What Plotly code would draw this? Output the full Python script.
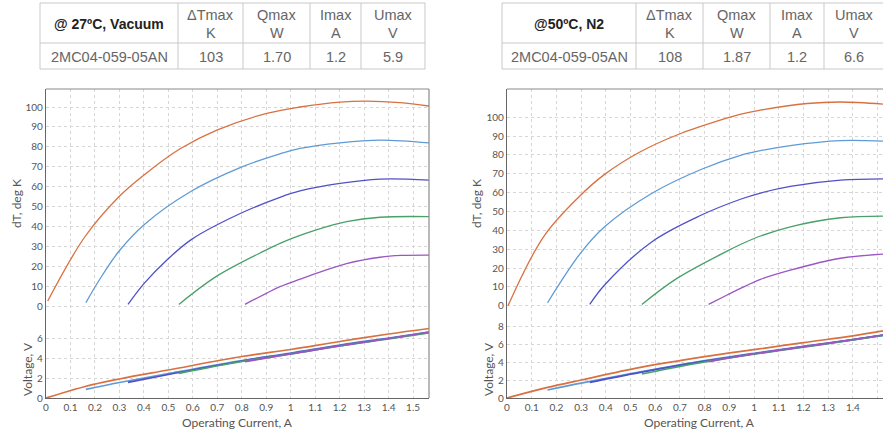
import plotly.graph_objects as go

W, H = 883, 431

# ---------------- data ----------------
series_names = ["Q=0", "Q=0.25", "Q=0.5", "Q=0.75", "Q=1"]
series_colors = ["#d9703f", "#5f9ad6", "#5050c8", "#48a06a", "#9b55c4"]

# Left panel (@27ºC, Vacuum): dT vs current
L_I = [
    [0.007, 0.159, 0.298, 0.402, 0.548, 0.698, 0.902, 1.038, 1.201, 1.311, 1.447, 1.565],
    [0.163, 0.221, 0.298, 0.402, 0.595, 0.796, 0.956, 1.038, 1.201, 1.365, 1.565],
    [0.335, 0.402, 0.493, 0.595, 0.796, 0.956, 1.038, 1.201, 1.365, 1.565],
    [0.543, 0.698, 0.902, 0.956, 1.038, 1.092, 1.228, 1.365, 1.565],
    [0.813, 0.902, 0.956, 1.038, 1.092, 1.228, 1.365, 1.450, 1.565],
]
L_dT = [
    [2.5, 34.8, 54.9, 66.0, 79.0, 88.4, 96.8, 100.0, 102.5, 103.0, 102.2, 100.5],
    [1.7, 13.7, 27.5, 41.0, 57.8, 69.7, 76.5, 79.2, 82.0, 83.4, 82.0],
    [0.8, 11.5, 23.0, 33.5, 46.6, 54.6, 57.8, 61.6, 63.8, 63.3],
    [0.8, 15.0, 28.3, 31.5, 35.5, 37.8, 42.4, 44.6, 44.9],
    [0.8, 6.5, 9.7, 13.5, 15.9, 21.3, 24.5, 25.4, 25.6],
]
# Left panel voltage vs current
L_VI = [
    [0.0, 0.16, 0.3, 0.5, 0.8, 1.0, 1.2, 1.4, 1.565],
    [0.163, 0.3, 0.5, 0.8, 1.0, 1.2, 1.4, 1.565],
    [0.335, 0.5, 0.8, 1.0, 1.2, 1.4, 1.565],
    [0.543, 0.8, 1.0, 1.2, 1.4, 1.565],
    [0.813, 1.0, 1.2, 1.4, 1.565],
]
L_V = [
    [0.0, 1.15, 1.9, 2.8, 4.15, 4.85, 5.65, 6.4, 6.95],
    [0.87, 1.55, 2.45, 3.75, 4.5, 5.3, 6.0, 6.6],
    [1.57, 2.35, 3.7, 4.45, 5.25, 5.95, 6.55],
    [2.47, 3.65, 4.4, 5.2, 5.9, 6.5],
    [3.63, 4.4, 5.2, 5.95, 6.6],
]

# Right panel (@50ºC, N2): dT vs current
R_I = [
    [0.004, 0.148, 0.293, 0.395, 0.540, 0.688, 0.889, 0.943, 1.026, 1.215, 1.350, 1.522],
    [0.164, 0.297, 0.395, 0.587, 0.785, 0.945, 1.026, 1.147, 1.350, 1.522],
    [0.335, 0.395, 0.587, 0.785, 0.945, 1.026, 1.147, 1.350, 1.522],
    [0.546, 0.688, 0.891, 0.945, 1.026, 1.147, 1.350, 1.522],
    [0.816, 0.891, 0.945, 1.026, 1.147, 1.350, 1.522],
]
R_dT = [
    [0.0, 36.6, 58.0, 69.7, 81.7, 90.6, 99.5, 101.5, 103.8, 107.3, 108.1, 107.0],
    [1.6, 27.8, 41.9, 59.7, 72.3, 79.8, 82.3, 85.0, 87.6, 87.3],
    [0.7, 11.0, 34.0, 48.0, 56.5, 59.8, 63.3, 66.6, 67.3],
    [0.7, 14.5, 29.0, 32.5, 37.0, 41.9, 46.7, 47.6],
    [0.7, 5.7, 9.2, 14.0, 18.9, 25.2, 27.4],
]
R_VI = [
    [0.0, 0.16, 0.3, 0.54, 0.8, 1.02, 1.2, 1.4, 1.522],
    [0.164, 0.3, 0.54, 0.8, 1.02, 1.2, 1.4, 1.522],
    [0.335, 0.54, 0.8, 1.02, 1.2, 1.4, 1.522],
    [0.546, 0.8, 1.02, 1.2, 1.4, 1.522],
    [0.816, 1.02, 1.2, 1.4, 1.522],
]
R_V = [
    [0.0, 1.15, 2.0, 3.4, 4.6, 5.45, 6.15, 6.9, 7.45],
    [0.89, 1.65, 2.9, 4.15, 5.05, 5.75, 6.5, 7.0],
    [1.74, 2.85, 4.1, 5.0, 5.7, 6.45, 6.95],
    [2.67, 4.0, 4.95, 5.65, 6.45, 6.95],
    [4.04, 5.0, 5.7, 6.5, 7.0],
]

x_tickvals = [0, 0.1, 0.2, 0.3, 0.4, 0.5, 0.6, 0.7, 0.8, 0.9, 1.0, 1.1, 1.2, 1.3, 1.4, 1.5]
x_ticktext = ["0", "0.1", "0.2", "0.3", "0.4", "0.5", "0.6", "0.7", "0.8", "0.9",
              "1", "1.1", "1.2", "1.3", "1.4", "1.5"]
dT_ticks = [0, 10, 20, 30, 40, 50, 60, 70, 80, 90, 100]
L_V_ticks = [0, 2, 4, 6]
R_V_ticks = [0, 2, 4, 6, 8]

# tables
L_table_title = "@ 27ºC, Vacuum"
R_table_title = "@50ºC, N2"
table_params = ["ΔTmax", "Qmax", "Imax", "Umax"]
table_units = ["K", "W", "A", "V"]
model_name = "2MC04-059-05AN"
L_table_values = ["103", "1.70", "1.2", "5.9"]
R_table_values = ["108", "1.87", "1.2", "6.6"]

# ---------------- helpers ----------------
def fx(px):
    return px / W

def fy(py):
    return 1 - py / H

fig = go.Figure()

for k in range(5):
    fig.add_trace(go.Scatter(x=L_I[k], y=L_dT[k], mode="lines", xaxis="x", yaxis="y",
                             line=dict(color=series_colors[k], width=1.3, shape="spline"),
                             name=series_names[k], showlegend=False, hoverinfo="skip"))
    fig.add_trace(go.Scatter(x=L_VI[k], y=L_V[k], mode="lines", xaxis="x", yaxis="y2",
                             line=dict(color=series_colors[k], width=1.7, shape="spline"),
                             name=series_names[k], showlegend=False, hoverinfo="skip"))
    fig.add_trace(go.Scatter(x=R_I[k], y=R_dT[k], mode="lines", xaxis="x2", yaxis="y3",
                             line=dict(color=series_colors[k], width=1.3, shape="spline"),
                             name=series_names[k], showlegend=False, hoverinfo="skip"))
    fig.add_trace(go.Scatter(x=R_VI[k], y=R_V[k], mode="lines", xaxis="x2", yaxis="y4",
                             line=dict(color=series_colors[k], width=1.7, shape="spline"),
                             name=series_names[k], showlegend=False, hoverinfo="skip"))

tickfont = dict(family="Lato, DejaVu Sans, sans-serif", size=10, color="#555555")
grid = dict(showgrid=True, gridcolor="#d6d6d6", griddash="dot", gridwidth=1,
            zeroline=False, showline=True, linecolor="#666666", linewidth=1.2,
            ticks="", tickfont=tickfont, automargin=False)

top_dom = [fy(318), fy(89)]
bot_dom = [fy(398), fy(318)]

fig.update_layout(
    width=W, height=H,
    margin=dict(l=0, r=0, t=0, b=0, autoexpand=False),
    paper_bgcolor="white", plot_bgcolor="white",
    xaxis=dict(domain=[fx(46), fx(429)], range=[0, 1.565], anchor="y2",
               tickvals=x_tickvals, ticktext=x_ticktext, **grid),
    yaxis=dict(domain=top_dom, range=[-6.03, 109.05], anchor="x", tickvals=dT_ticks, **grid),
    yaxis2=dict(domain=bot_dom, range=[0, 8], anchor="x", tickvals=L_V_ticks, **grid),
    xaxis2=dict(domain=[fx(507), 1], range=[0, 1.522], anchor="y4",
                tickvals=x_tickvals, ticktext=x_ticktext, **grid),
    yaxis3=dict(domain=top_dom, range=[-6.5, 115.0], anchor="x2", tickvals=dT_ticks, **grid),
    yaxis4=dict(domain=bot_dom, range=[0, 8.89], anchor="x2", tickvals=R_V_ticks, **grid),
)

shapes = []
annotations = []

# plot borders (top & right)
for (xl, xr) in [(46, 429), (507, 884)]:
    shapes.append(dict(type="line", xref="paper", yref="paper", x0=fx(xl), x1=fx(xr),
                       y0=fy(89), y1=fy(89), line=dict(color="#8a8a8a", width=1.2)))
shapes.append(dict(type="line", xref="paper", yref="paper", x0=fx(429), x1=fx(429),
                   y0=fy(89), y1=fy(398), line=dict(color="#8a8a8a", width=1.2)))

title_font = dict(family="Lato, DejaVu Sans, sans-serif", size=12, color="#555555")
# axis titles
for cx, tx1, tx2 in [(237.5, 17, 27), (699, 477, 488)]:
    annotations.append(dict(text="Operating Current, A", xref="paper", yref="paper",
                            x=fx(cx), y=fy(422), showarrow=False, font=title_font,
                            xanchor="center", yanchor="middle"))
    annotations.append(dict(text="dT, deg K", xref="paper", yref="paper", textangle=-90,
                            x=fx(tx1), y=fy(204), showarrow=False, font=title_font,
                            xanchor="center", yanchor="middle"))
    annotations.append(dict(text="Voltage, V", xref="paper", yref="paper", textangle=-90,
                            x=fx(tx2), y=fy(369), showarrow=False, font=title_font,
                            xanchor="center", yanchor="middle"))

# tables
tcol = "#c9c9c9"
tfont = dict(family="Liberation Sans, Arial, sans-serif", size=14.5, color="#666666")
bfont = dict(family="Liberation Sans, Arial, sans-serif", size=14, color="#222222")

def draw_table(x_edges, title, values):
    top, mid, bot = 3, 43, 69
    left, right = x_edges[0], x_edges[-1]
    for yy in (top, mid, bot):
        shapes.append(dict(type="line", xref="paper", yref="paper", x0=fx(left), x1=fx(right),
                           y0=fy(yy), y1=fy(yy), line=dict(color=tcol, width=1)))
    for xx in x_edges:
        shapes.append(dict(type="line", xref="paper", yref="paper", x0=fx(xx), x1=fx(xx),
                           y0=fy(top), y1=fy(bot), line=dict(color=tcol, width=1)))
    c0 = (x_edges[0] + x_edges[1]) / 2
    annotations.append(dict(text="<b>" + title + "</b>", xref="paper", yref="paper",
                            x=fx(c0), y=fy(24), showarrow=False, font=bfont,
                            xanchor="center", yanchor="middle"))
    annotations.append(dict(text=model_name, xref="paper", yref="paper",
                            x=fx(c0), y=fy(57), showarrow=False, font=tfont,
                            xanchor="center", yanchor="middle"))
    for i in range(4):
        cx = (x_edges[i + 1] + x_edges[i + 2]) / 2
        annotations.append(dict(text=table_params[i], xref="paper", yref="paper",
                                x=fx(cx), y=fy(15), showarrow=False, font=tfont,
                                xanchor="center", yanchor="middle"))
        annotations.append(dict(text=table_units[i], xref="paper", yref="paper",
                                x=fx(cx), y=fy(33), showarrow=False, font=tfont,
                                xanchor="center", yanchor="middle"))
        annotations.append(dict(text=values[i], xref="paper", yref="paper",
                                x=fx(cx), y=fy(57), showarrow=False, font=tfont,
                                xanchor="center", yanchor="middle"))

draw_table([40, 178, 243, 310, 361, 425], L_table_title, L_table_values)
draw_table([502, 636, 703, 770, 824, 884], R_table_title, R_table_values)

fig.update_layout(shapes=shapes, annotations=annotations)
fig.write_html("out.html", config={"displayModeBar": False},
               post_script="document.body.style.margin='0';document.body.style.overflow='hidden';")
